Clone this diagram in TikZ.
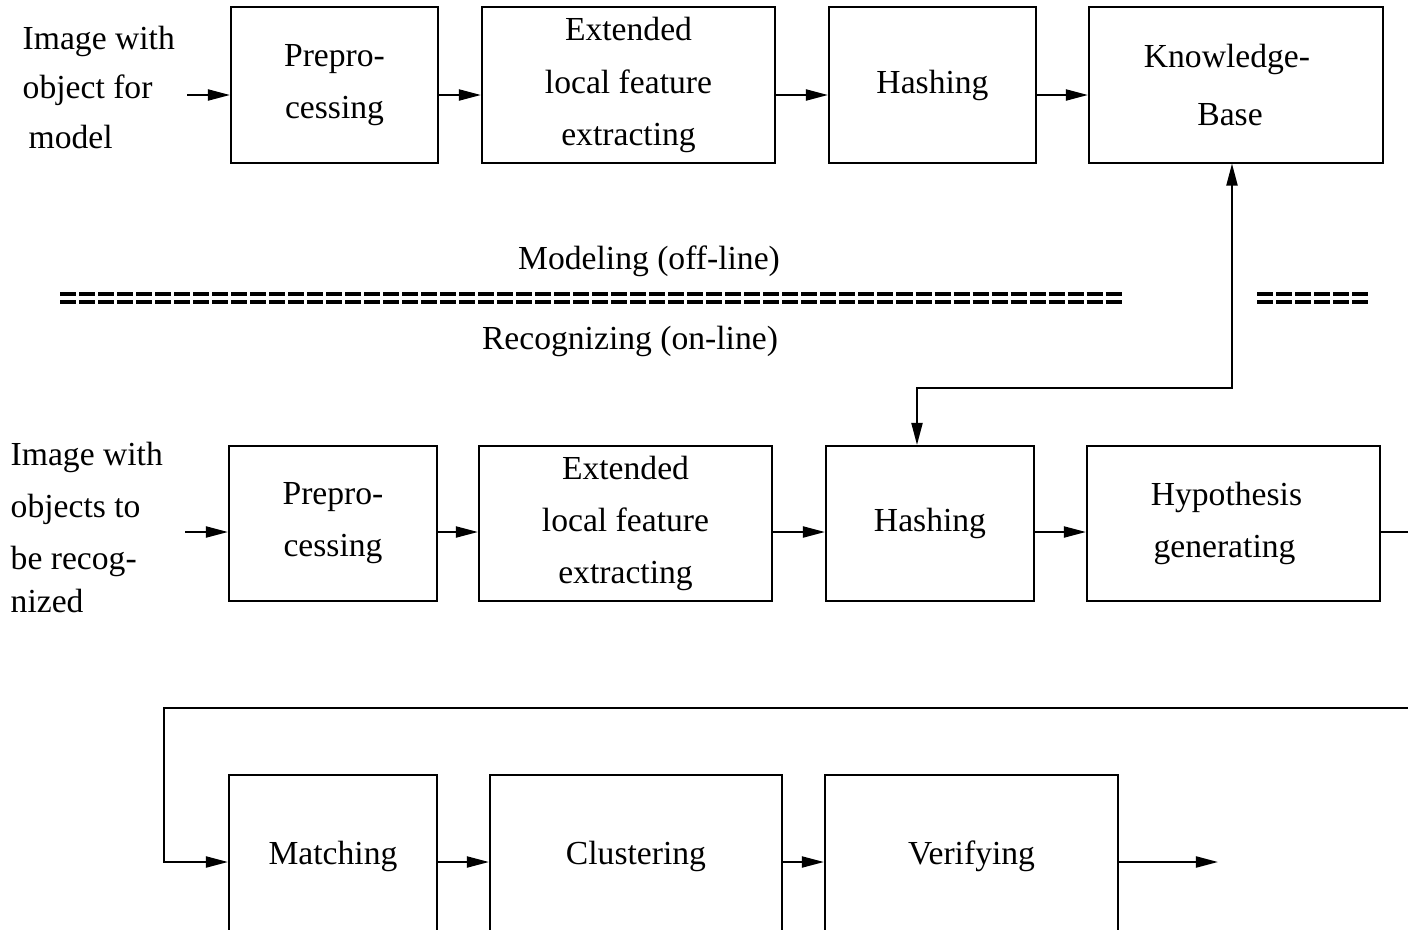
\documentclass[tikz,border=0pt]{standalone}
\usepackage{fontspec}
\setmainfont{Liberation Serif}
\usetikzlibrary{arrows.meta}
\begin{document}
\begin{tikzpicture}[x=0.01cm,y=-0.01cm,
  txt/.style={font=\fontsize{9.56pt}{14.8pt}\selectfont, inner sep=0pt},
  blk/.style={draw, line width=0.02cm, txt, align=center, minimum height=1.55cm},
  arr/.style={line width=0.02cm, -{Triangle[length=0.22cm,width=0.11cm]}},
  darr/.style={line width=0.02cm, {Triangle[length=0.22cm,width=0.11cm]}-{Triangle[length=0.22cm,width=0.11cm]}},
  eqline/.style={line width=0.035cm, dash pattern=on 0.16cm off 0.03cm}
]
\useasboundingbox (0,0) rectangle (1408,930);
\clip (0,0) rectangle (1408,930);

% coordinates for arrow rows
\coordinate (ytop) at (0,95);
\coordinate (ymid) at (0,532);
\coordinate (ybot) at (0,862);

% top row
\node[txt, align=left, anchor=north west] (in1) at (22,25) {Image with\\[-0.6pt]object for\\[-0.6pt]\hspace{0.06cm}model};
\node[blk, minimum width=2.07cm] (tp) at (334.5,85) {Prepro-\\cessing};
\node[blk, minimum width=2.93cm] (te) at (628.5,85) {Extended\\local feature\\extracting};
\node[blk, minimum width=2.07cm] (th) at (932.5,85) {Hashing};
\node[blk, minimum width=2.94cm] (tk) at (1236,85) {Knowledge-\hspace*{0.18cm}\\[1.5pt]Base\hspace*{0.12cm}};

\coordinate (in1a) at (187,95);
\draw[arr] (in1a) -- (tp.west |- ytop);
\draw[arr] (tp.east |- ytop) -- (te.west |- ytop);
\draw[arr] (te.east |- ytop) -- (th.west |- ytop);
\draw[arr] (th.east |- ytop) -- (tk.west |- ytop);

% separator
\node[txt] (lmod) at (649,261) {Modeling (off-line)};
\node[txt] (lrec) at (630,341) {Recognizing (on-line)};
\coordinate (s1a) at (60,294); \coordinate (s1b) at (1122,294);
\coordinate (s2a) at (60,302); \coordinate (s2b) at (1122,302);
\coordinate (s3a) at (1257,294); \coordinate (s3b) at (1370,294);
\coordinate (s4a) at (1257,302); \coordinate (s4b) at (1370,302);
\draw[eqline] (s1a) -- (s1b);
\draw[eqline] (s2a) -- (s2b);
\draw[eqline] (s3a) -- (s3b);
\draw[eqline] (s4a) -- (s4b);

% middle row
\node[txt, align=left, anchor=north west] (in2) at (10,441) {Image with\\objects to\\be recog-\\[-2.6pt]nized};
\node[blk, minimum width=2.08cm] (mp) at (333,523.5) {Prepro-\\cessing};
\node[blk, minimum width=2.93cm] (me) at (625.5,523.5) {Extended\\local feature\\extracting};
\node[blk, minimum width=2.08cm] (mh) at (930,523.5) {Hashing};
\node[blk, minimum width=2.93cm] (my) at (1233.5,523.5) {Hypothesis\hspace*{0.14cm}\\generating\hspace*{0.18cm}};

\coordinate (in2a) at (185,532);
\draw[arr] (in2a) -- (mp.west |- ymid);
\draw[arr] (mp.east |- ymid) -- (me.west |- ymid);
\draw[arr] (me.east |- ymid) -- (mh.west |- ymid);
\draw[arr] (mh.east |- ymid) -- (my.west |- ymid);

% knowledge base link
\coordinate (k1) at (1232,388);
\coordinate (k2) at (917,388);
\draw[darr] (tk.south -| k1) -- (k1) -- (k2) -- (mh.north -| k2);

% bottom row
\node[blk, minimum width=2.08cm, minimum height=1.62cm] (bm) at (333,856) {Matching};
\node[blk, minimum width=2.92cm, minimum height=1.62cm] (bc) at (636,856) {Clustering};
\node[blk, minimum width=2.93cm, minimum height=1.62cm] (bv) at (971.5,856) {Verifying};

\coordinate (r1) at (1440,532);
\coordinate (r2) at (1440,708);
\coordinate (r3) at (164,708);
\draw[arr] (my.east |- ymid) -- (r1) -- (r2) -- (r3) -- (r3 |- ybot) -- (bm.west |- ybot);
\draw[arr] (bm.east |- ybot) -- (bc.west |- ybot);
\draw[arr] (bc.east |- ybot) -- (bv.west |- ybot);
\coordinate (out) at (1218,862);
\draw[arr] (bv.east |- ybot) -- (out);
\end{tikzpicture}
\end{document}
